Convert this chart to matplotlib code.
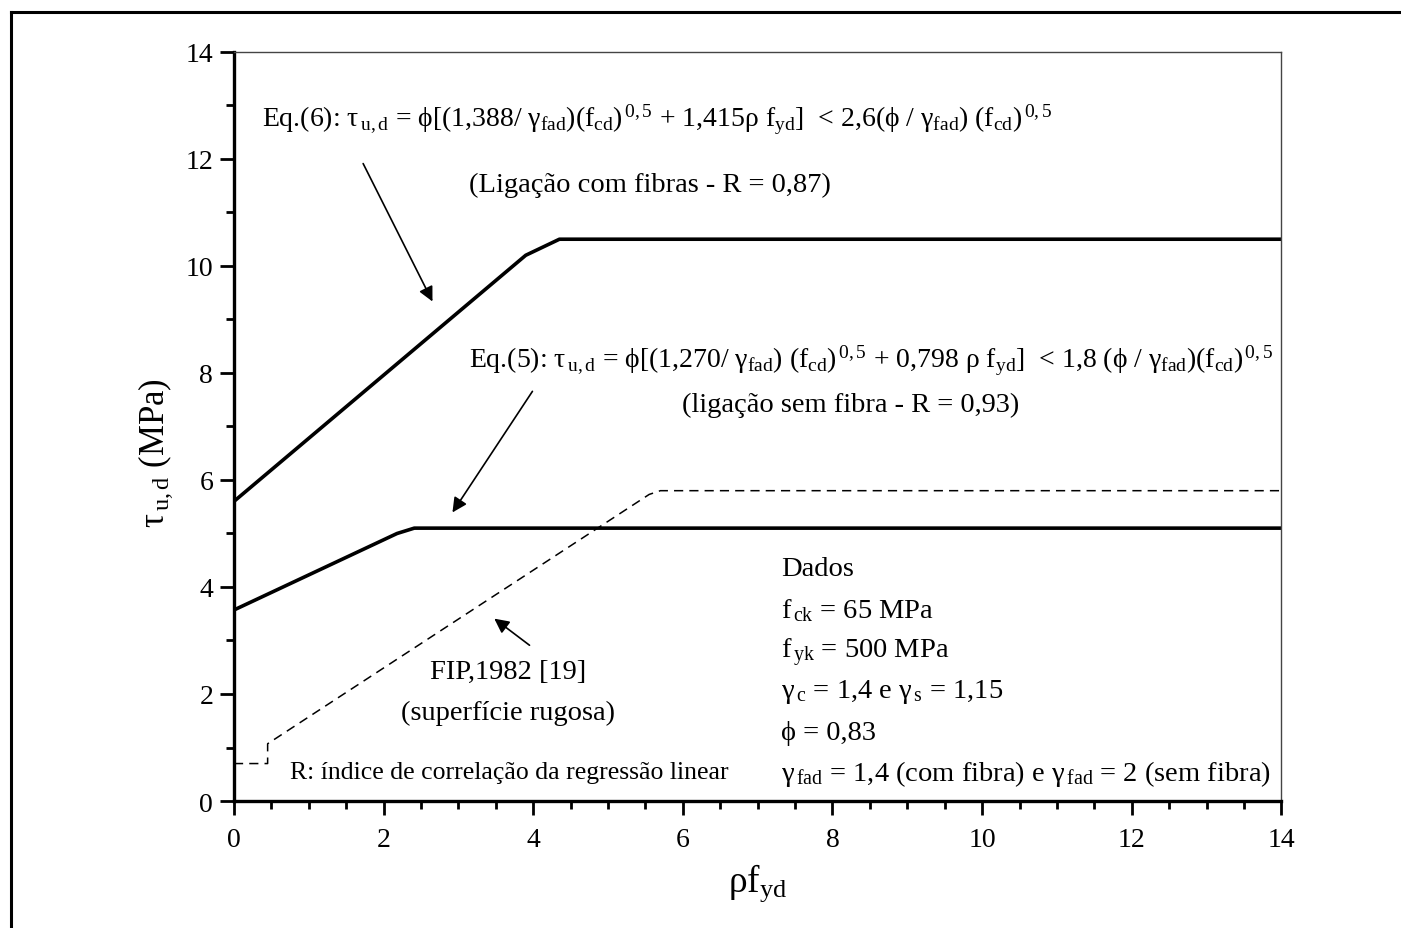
import matplotlib.pyplot as plt
from matplotlib.lines import Line2D
from matplotlib.ticker import MultipleLocator

plt.rcParams["font.family"] = ["Liberation Serif", "DejaVu Serif"]
plt.rcParams["mathtext.fontset"] = "custom"
plt.rcParams["mathtext.rm"] = "Liberation Serif"
plt.rcParams["mathtext.it"] = "Liberation Serif:italic"

# curve data
eq6_x = [0.0, 3.9, 4.35, 14.0]
eq6_y = [5.6, 10.2, 10.5, 10.5]
eq5_x = [0.0, 2.18, 2.41, 14.0]
eq5_y = [3.57, 5.0, 5.1, 5.1]
fip_x = [0.0, 0.45, 0.45, 5.55, 5.7, 14.0]
fip_y = [0.7, 0.7, 1.07, 5.73, 5.8, 5.8]

x_ticks = list(range(0, 15, 2))
y_ticks = list(range(0, 15, 2))

fig = plt.figure(figsize=(14.01, 9.29), dpi=100)
ax = fig.add_axes([0.167, 0.1367, 0.7476, 0.8063])

ax.plot(eq6_x, eq6_y, color="black", lw=2.6, solid_joinstyle="round")
ax.plot(eq5_x, eq5_y, color="black", lw=2.6, solid_joinstyle="round")
ax.plot(fip_x, fip_y, color="black", lw=1.1, dashes=(6, 4))

ax.set_xlim(0, 14)
ax.set_ylim(0, 14)
ax.set_xticks(x_ticks)
ax.set_yticks(y_ticks)
ax.xaxis.set_minor_locator(MultipleLocator(0.5))
ax.yaxis.set_minor_locator(MultipleLocator(1))
ax.tick_params(which="major", direction="out", length=10, width=2, labelsize=20, pad=5)
ax.tick_params(axis="x", which="major", pad=9)
ax.tick_params(which="minor", direction="out", length=6, width=2)
for side in ("left", "bottom"):
    ax.spines[side].set_linewidth(2.4)
for side in ("top", "right"):
    ax.spines[side].set_linewidth(1.0)
    ax.spines[side].set_color("#444444")

ax.set_xlabel(r"ρf$_{\mathrm{yd}}$", fontsize=27, labelpad=6)
ax.set_ylabel(r"τ$_{\,\mathrm{u,d}}$ (MPa)", fontsize=25)
ax.yaxis.set_label_coords(-0.056, 0.466)

fs = 20.5
fs_eq = 20
eq6 = (r"Eq.(6): τ$_{\,\mathrm{u,d}}$ = ϕ[(1,388/ γ$_{\mathrm{fad}}$)(f$_{\mathrm{cd}}$)$^{\,0,5}$"
       r" + 1,415ρ f$_{\mathrm{yd}}$]  < 2,6(ϕ / γ$_{\mathrm{fad}}$) (f$_{\mathrm{cd}}$)$^{\,0,5}$")
eq5 = (r"Eq.(5): τ$_{\,\mathrm{u,d}}$ = ϕ[(1,270/ γ$_{\mathrm{fad}}$) (f$_{\mathrm{cd}}$)$^{\,0,5}$"
       r" + 0,798 ρ f$_{\mathrm{yd}}$]  < 1,8 (ϕ / γ$_{\mathrm{fad}}$)(f$_{\mathrm{cd}}$)$^{\,0,5}$")
ax.text(0.37, 12.62, eq6, fontsize=fs_eq, va="baseline", ha="left")
ax.text(5.56, 11.53, "(Ligação com fibras - R = 0,87)", fontsize=fs, va="center", ha="center")
ax.text(3.14, 8.11, eq5, fontsize=fs_eq, va="baseline", ha="left")
ax.text(8.24, 7.42, "(ligação sem fibra - R = 0,93)", fontsize=fs, va="center", ha="center")
ax.text(3.66, 2.43, "FIP,1982 [19]", fontsize=fs, va="center", ha="center")
ax.text(3.66, 1.66, "(superfície rugosa)", fontsize=fs, va="center", ha="center")
ax.text(0.75, 0.54, "R: índice de correlação da regressão linear", fontsize=18.5, va="center", ha="left")

dados = [
    "Dados",
    r"f$_{\,\mathrm{ck}}$ = 65 MPa",
    r"f$_{\,\mathrm{yk}}$ = 500 MPa",
    r"γ$_{\,\mathrm{c}}$ = 1,4 e γ$_{\,\mathrm{s}}$ = 1,15",
    "ϕ = 0,83",
    r"γ$_{\,\mathrm{fad}}$ = 1,4 (com fibra) e γ$_{\,\mathrm{fad}}$ = 2 (sem fibra)",
]
dados_y = [4.35, 3.57, 2.8, 2.05, 1.28, 0.52]
for label, yy in zip(dados, dados_y):
    ax.text(7.31, yy, label, fontsize=fs, va="center", ha="left")

arrow = dict(arrowstyle="-|>", color="black", lw=1.2, mutation_scale=22)
ax.annotate("", xy=(2.67, 9.29), xytext=(1.71, 11.96), arrowprops=arrow)
ax.annotate("", xy=(2.90, 5.35), xytext=(4.01, 7.70), arrowprops=arrow)
ax.annotate("", xy=(3.45, 3.44), xytext=(3.98, 2.88), arrowprops=arrow)

# outer frame around the figure (bottom is cut off in the source)
w, h = 1401, 929
fig.add_artist(Line2D([11 / w, 11 / w], [0, 1 - 13 / h], color="black", lw=2.2))
fig.add_artist(Line2D([11 / w, 1], [1 - 13 / h, 1 - 13 / h], color="black", lw=2.2))

fig.savefig("out.png", dpi=100)
plt.close(fig)
